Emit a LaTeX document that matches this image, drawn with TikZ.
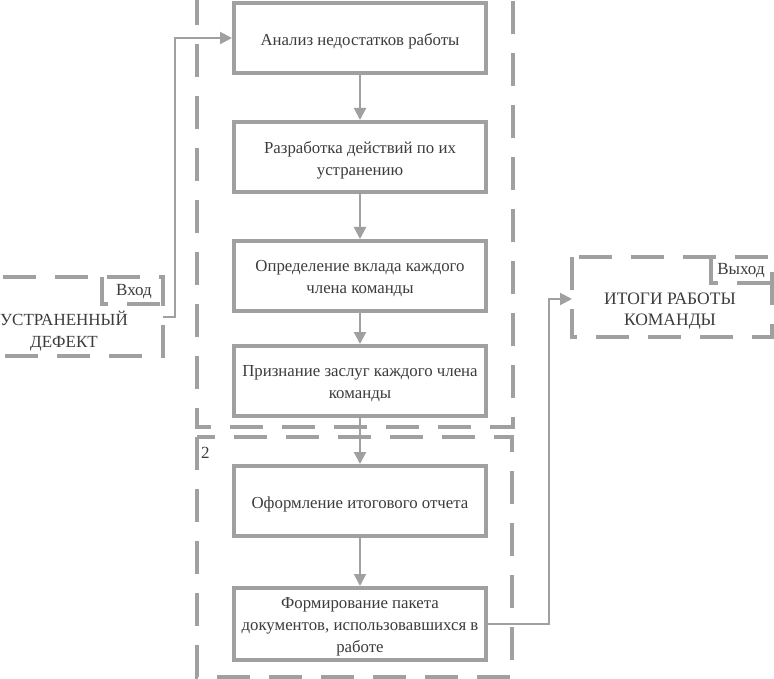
\documentclass[tikz,border=0pt]{standalone}
\usepackage{fontspec}
\setmainfont{Liberation Serif}
\usetikzlibrary{arrows.meta}
\definecolor{ln}{RGB}{160,160,160}
\definecolor{tx}{RGB}{60,60,60}
\begin{document}
\begin{tikzpicture}[x=1pt,y=-1pt,
  stepbox/.style={draw=ln,line width=4pt,fill=white,minimum width=252pt,minimum height=70pt,inner sep=0pt},
  boxtext/.style={inner sep=0pt,align=center,text=tx,font=\fontsize{16.8}{22}\selectfont},
  grp/.style={draw=ln,line width=4.5pt,dash pattern=on 33pt off 19pt},
  lbl/.style={text=tx,font=\fontsize{17}{21}\selectfont,align=center,inner sep=0pt},
  conn/.style={draw=ln,line width=2pt},
  arr/.style={conn,-{Triangle[length=12pt,width=12pt]}}]
\useasboundingbox (0,0) rectangle (774,679);
\fill[white] (0,0) rectangle (774,679);
\clip (0,0) rectangle (774,679);
% groups
\draw[grp] (197,-8) rectangle (513,427);
\draw[grp] (197,437) rectangle (512,677);
\node[lbl,anchor=west] (two) at (201,453) {2};
% input
\draw[grp] (-20,277) rectangle (163,356);
\draw[grp] (102,277) -- (102,304) -- (163,304);
\node[lbl] (vhod) at (134,292) {Вход};
\node[lbl,font=\fontsize{17}{22}\selectfont] (in) at (64,331) {УСТРАНЕННЫЙ\\ДЕФЕКТ};
\coordinate (inR) at (163,317);
% output
\draw[grp] (572,257) rectangle (772,337);
\draw[grp] (711,257) -- (711,283) -- (772,283);
\node[lbl] (vyhod) at (741,271) {Выход};
\node[lbl,font=\fontsize{17.5}{20.5}\selectfont] (out) at (670,311) {ИТОГИ РАБОТЫ\\КОМАНДЫ};
\coordinate (outL) at (572,299);
% steps
\node[stepbox] (b1) at (360,38) {};
\node[stepbox] (b2) at (360,157) {};
\node[stepbox] (b3) at (360,276) {};
\node[stepbox] (b4) at (360,381) {};
\node[stepbox] (b5) at (360,501) {};
\node[stepbox,minimum height=72pt] (b6) at (360,624) {};
\node[boxtext] (t1) at ([yshift=-3pt]b1.center) {Анализ недостатков работы};
\node[boxtext] (t2) at ([yshift=-3pt]b2.center) {Разработка действий по их\\устранению};
\node[boxtext] (t3) at ([yshift=-3pt]b3.center) {Определение вклада каждого\\члена команды};
\node[boxtext] (t4) at ([yshift=-3pt]b4.center) {Признание заслуг каждого члена\\команды};
\node[boxtext] (t5) at ([yshift=-3pt]b5.center) {Оформление итогового отчета};
\node[boxtext] (t6) at ([yshift=-3pt]b6.center) {Формирование пакета\\документов, использовавшихся в\\работе};
% arrows
\draw[arr] (b1) -- (b2);
\draw[arr] (b2) -- (b3);
\draw[arr] (b3) -- (b4);
\draw[arr] (b4) -- (b5);
\draw[arr] (b5) -- (b6);
\draw[arr] (inR) -- (175,317) -- (175,38) -- (b1.west);
\draw[arr] (b6.east) -- (549,624) -- (549,299) -- (outL);
\end{tikzpicture}
\end{document}
